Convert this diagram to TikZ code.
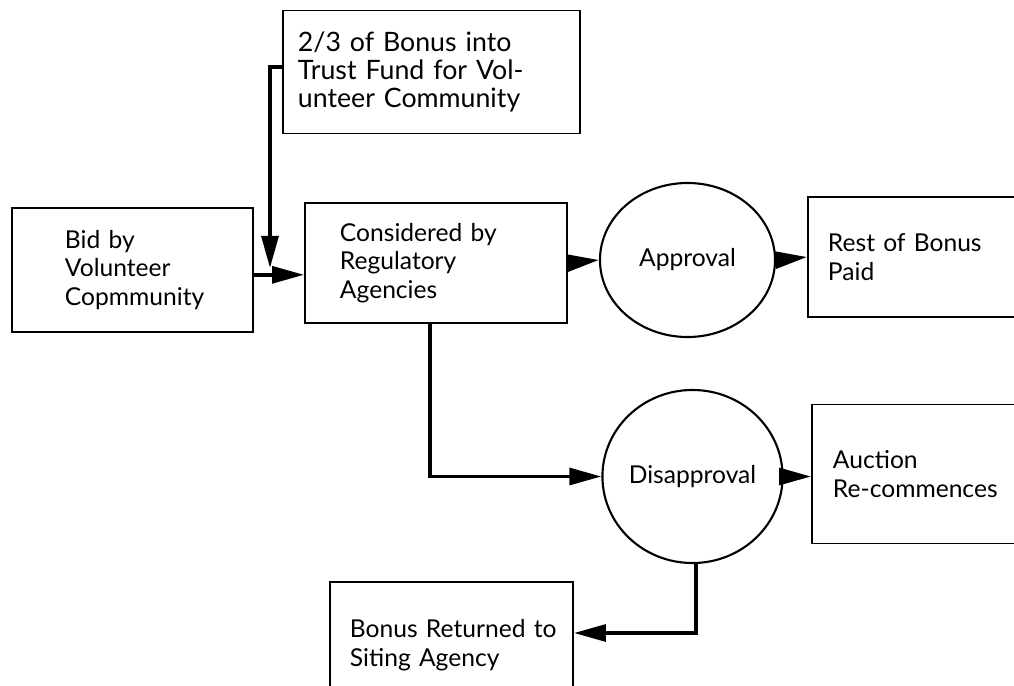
\documentclass[tikz,border=0pt]{standalone}
\usepackage{fontspec}
\setmainfont{Lato}
\usetikzlibrary{shapes.geometric}
\usetikzlibrary{arrows.meta}
\hyphenpenalty=10000

\begin{document}
\begin{tikzpicture}[x=0.025cm, y=-0.025cm,
    box/.style={draw, line width=1.3pt, inner sep=0pt, align=left,
      font=\fontsize{17.5pt}{20.3pt}\selectfont},
    circ/.style={draw, ellipse, line width=1.5pt, inner sep=0pt,
      font=\fontsize{17.5pt}{20.3pt}\selectfont},
    flow/.style={-{Triangle[length=0.8cm, width=0.42cm]}, line width=2.6pt}]
  \useasboundingbox (0,0) rectangle (1014,685);

  \node[box, minimum width=6.025cm, minimum height=3.1cm, text width=3.375cm]
    (bid) at (132.5,270) {Bid by\\Volunteer\\Copmmunity};
  \node[box, minimum width=6.55cm, minimum height=3cm, text width=4.8cm]
    (cons) at (436,263) {Considered by\\Regulatory\\Agencies};
  \node[box, minimum width=7.425cm, minimum height=3.075cm, text width=6.675cm,
    font=\fontsize{19pt}{20pt}\selectfont]
    (trust) at (431.5,72) {2/3 of Bonus into\\Trust Fund for Vol-\\unteer Community};
  \node[circ, minimum width=4.375cm, minimum height=3.85cm]
    (appr) at (687.5,260) {Approval};
  \node[circ, minimum width=4.375cm, minimum height=4.325cm]
    (disappr) at (692.5,476.5) {Disapproval};
  \node[box, minimum width=6cm, minimum height=3cm, text width=5cm]
    (rest) at (928,257) {Rest of Bonus\\Paid};
  \node[box, minimum width=6cm, minimum height=3.475cm, text width=4.95cm]
    (auction) at (932,474) {Auction\\Re-commences};
  \node[box, minimum width=6.075cm, minimum height=3.15cm, text width=5.075cm]
    (bonus) at (451.5,645) {Bonus~Returned~to\\Siting Agency};

  % trust fund line joins the bid arrow
  \coordinate (join) at (270,268);
  \draw[flow] ([yshift=0.12cm]trust.west) -| (join);
  \draw[flow] ([yshift=-0.12cm]bid.east) -- ([yshift=-0.12cm]bid.east -| cons.west);

  \draw[flow] (cons.east) -- (appr.west);
  \draw[flow] (appr.east) -- (rest.west);
  \draw[flow] ([xshift=-0.15cm]cons.south) |- (disappr.west);
  \draw[flow] (disappr.east) -- (disappr.east -| auction.west);
  \draw[flow] ([xshift=0.08cm]disappr.south) |- ([yshift=0.3cm]bonus.east);
\end{tikzpicture}
\end{document}
